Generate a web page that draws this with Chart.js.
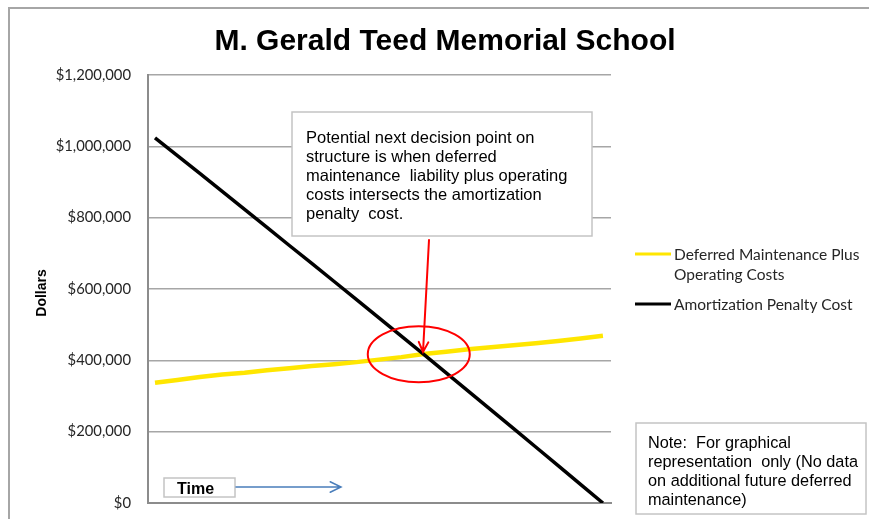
<!DOCTYPE html>
<html>
<head>
<meta charset="utf-8">
<title>M. Gerald Teed Memorial School</title>
<script src="https://cdn.jsdelivr.net/npm/chart.js@4/dist/chart.umd.min.js"></script>
<style>
  html, body { margin: 0; padding: 0; background: #fff; }
  #chart { display: block; }
</style>
</head>
<body>
<canvas id="chart" width="869" height="519"></canvas>
<script>
// ── Data ──────────────────────────────────────────────
var periods = [0, 1, 2, 3, 4, 5, 6, 7, 8, 9, 10, 11, 12, 13, 14, 15, 16, 17, 18, 19, 20];

var deferredMaint = [337000, 345000, 353000, 360000, 365000, 372000, 378000, 384000, 389000, 395000,
                     402000, 409000, 418000, 424000, 431000, 437000, 442000, 448000, 454000, 461000, 469000];

var amortPenalty = [1024000, 974000, 924000, 874000, 823000, 773000, 722000, 672000, 621000, 570000,
                    519000, 468000, 417000, 365000, 313000, 261000, 209000, 157000, 105000, 52000, 0];

var yTicks = [0, 200000, 400000, 600000, 800000, 1000000, 1200000];

var seriesNames = ['Deferred Maintenance Plus Operating Costs', 'Amortization Penalty Cost'];
var legendLines = [['Deferred Maintenance Plus', 'Operating Costs'], ['Amortization Penalty Cost']];

var calloutText = [
  'Potential next decision point on',
  'structure is when deferred',
  'maintenance  liability plus operating',
  'costs intersects the amortization',
  'penalty  cost.'
];
var noteText = [
  'Note:  For graphical',
  'representation  only (No data',
  'on additional future deferred',
  'maintenance)'
];

function toPoints(vals) {
  return vals.map(function (v, i) { return { x: periods[i], y: v }; });
}

function money(v) {
  return '$' + Number(v).toLocaleString('en-US');
}

// ── Helpers for the drawn annotations ─────────────────
function openArrow(ctx, x1, y1, x2, y2, head, color, width) {
  var a = Math.atan2(y2 - y1, x2 - x1);
  ctx.save();
  ctx.strokeStyle = color;
  ctx.lineWidth = width;
  ctx.lineCap = 'round';
  ctx.beginPath();
  ctx.moveTo(x1, y1);
  ctx.lineTo(x2, y2);
  ctx.moveTo(x2 - head * Math.cos(a - 0.45), y2 - head * Math.sin(a - 0.45));
  ctx.lineTo(x2, y2);
  ctx.lineTo(x2 - head * Math.cos(a + 0.45), y2 - head * Math.sin(a + 0.45));
  ctx.stroke();
  ctx.restore();
}

function textBox(ctx, x, y, w, h, lines, font, firstBase, pitch, tx) {
  ctx.save();
  ctx.fillStyle = '#fff';
  ctx.fillRect(x, y, w, h);
  ctx.strokeStyle = '#c4c4c4';
  ctx.lineWidth = 1.5;
  ctx.strokeRect(x, y, w, h);
  ctx.fillStyle = '#000';
  ctx.font = font;
  ctx.textBaseline = 'alphabetic';
  lines.forEach(function (t, i) { ctx.fillText(t, tx, firstBase + i * pitch); });
  ctx.restore();
}

// ── Frame + annotations plugin ────────────────────────
var decorPlugin = {
  id: 'decor',
  beforeDraw: function (chart) {
    var ctx = chart.ctx;
    ctx.save();
    ctx.fillStyle = '#fff';
    ctx.fillRect(0, 0, chart.width, chart.height);
    ctx.strokeStyle = '#a6a6a6';
    ctx.lineWidth = 2;
    ctx.strokeRect(9, 8, chart.width + 20, chart.height + 20);
    ctx.restore();
  },
  afterDraw: function (chart) {
    var ctx = chart.ctx;
    var xs = chart.scales.x, ys = chart.scales.y;

    // title
    ctx.save();
    ctx.fillStyle = '#000';
    ctx.font = 'bold 30px "Liberation Sans", Arial, sans-serif';
    ctx.textAlign = 'center';
    ctx.textBaseline = 'alphabetic';
    ctx.fillText('M. Gerald Teed Memorial School', 445, 50);

    // y axis title
    ctx.translate(42, (ys.top + ys.bottom) / 2 + 4);
    ctx.rotate(-Math.PI / 2);
    ctx.font = 'bold 14px "Liberation Sans", Arial, sans-serif';
    ctx.textBaseline = 'middle';
    ctx.fillText('Dollars', 0, 0);
    ctx.restore();

    // legend
    ctx.save();
    ctx.font = '15.5px Lato, sans-serif';
    ctx.fillStyle = '#262626';
    ctx.textBaseline = 'middle';
    var rows = [254, 304];
    chart.data.datasets.forEach(function (ds, i) {
      ctx.strokeStyle = ds.borderColor;
      ctx.lineWidth = 3;
      ctx.beginPath();
      ctx.moveTo(635, rows[i]);
      ctx.lineTo(671, rows[i]);
      ctx.stroke();
      legendLines[i].forEach(function (t, j) { ctx.fillText(t, 674, rows[i] + 1 + j * 20); });
    });
    ctx.restore();

    // callout box + arrow + circle around the crossing
    textBox(ctx, 292, 112, 300, 124, calloutText, '16.5px "Liberation Sans", Arial, sans-serif', 142.5, 19, 306);
    openArrow(ctx, 429, 240, 423, 352, 11, '#ff0000', 2);
    ctx.save();
    ctx.strokeStyle = '#ff0000';
    ctx.lineWidth = 2;
    ctx.beginPath();
    ctx.ellipse(xs.getPixelForValue(12) - 5, ys.getPixelForValue(417000), 51, 28, 0, 0, Math.PI * 2);
    ctx.stroke();
    ctx.restore();

    // note box
    textBox(ctx, 636, 423, 230, 91, noteText, '16.3px "Liberation Sans", Arial, sans-serif', 447.5, 19, 648);

    // time label + arrow
    textBox(ctx, 164, 478, 71, 19, [], '', 0, 0, 0);
    ctx.save();
    ctx.font = 'bold 16px "Liberation Sans", Arial, sans-serif';
    ctx.fillStyle = '#000';
    ctx.fillText('Time', 177, 494);
    ctx.restore();
    openArrow(ctx, 236, 487, 341, 487, 12, '#4a7ebb', 1.5);
  }
};

// ── Chart ─────────────────────────────────────────────
var chart = new Chart(document.getElementById('chart'), {
  type: 'line',
  data: {
    datasets: [{
      label: seriesNames[0],
      data: toPoints(deferredMaint),
      borderColor: '#ffe600',
      borderWidth: 4.5,
      pointRadius: 0,
      tension: 0,
      order: 1
    }, {
      label: seriesNames[1],
      data: toPoints(amortPenalty),
      borderColor: '#000000',
      borderWidth: 3.5,
      pointRadius: 0,
      tension: 0,
      order: 0
    }]
  },
  options: {
    responsive: false,
    animation: false,
    events: [],
    layout: { autoPadding: false, padding: { left: 0, top: 75, right: 258, bottom: 16 } },
    plugins: {
      legend: { display: false },
      title: { display: false },
      tooltip: { enabled: false }
    },
    scales: {
      x: {
        type: 'linear',
        min: -0.3125,
        max: 20.36,
        ticks: { display: false },
        grid: { display: false },
        border: { display: true, color: '#8c8c8c', width: 2 },
        afterFit: function (s) { s.height = 0; s.paddingLeft = 0; s.paddingRight = 0; }
      },
      y: {
        min: 0,
        max: 1200000,
        afterBuildTicks: function (s) { s.ticks = yTicks.map(function (v) { return { value: v }; }); },
        ticks: {
          padding: 17,
          color: '#262626',
          font: { family: 'Lato, sans-serif', size: 14.8 },
          callback: function (v) { return money(v); }
        },
        grid: { color: '#a6a6a6', lineWidth: 1.5, drawTicks: false },
        border: { display: true, color: '#8c8c8c', width: 2 },
        afterFit: function (s) { s.width = 148; s.paddingTop = 0; s.paddingBottom = 0; }
      }
    }
  },
  plugins: [decorPlugin]
});
</script>
</body>
</html>
